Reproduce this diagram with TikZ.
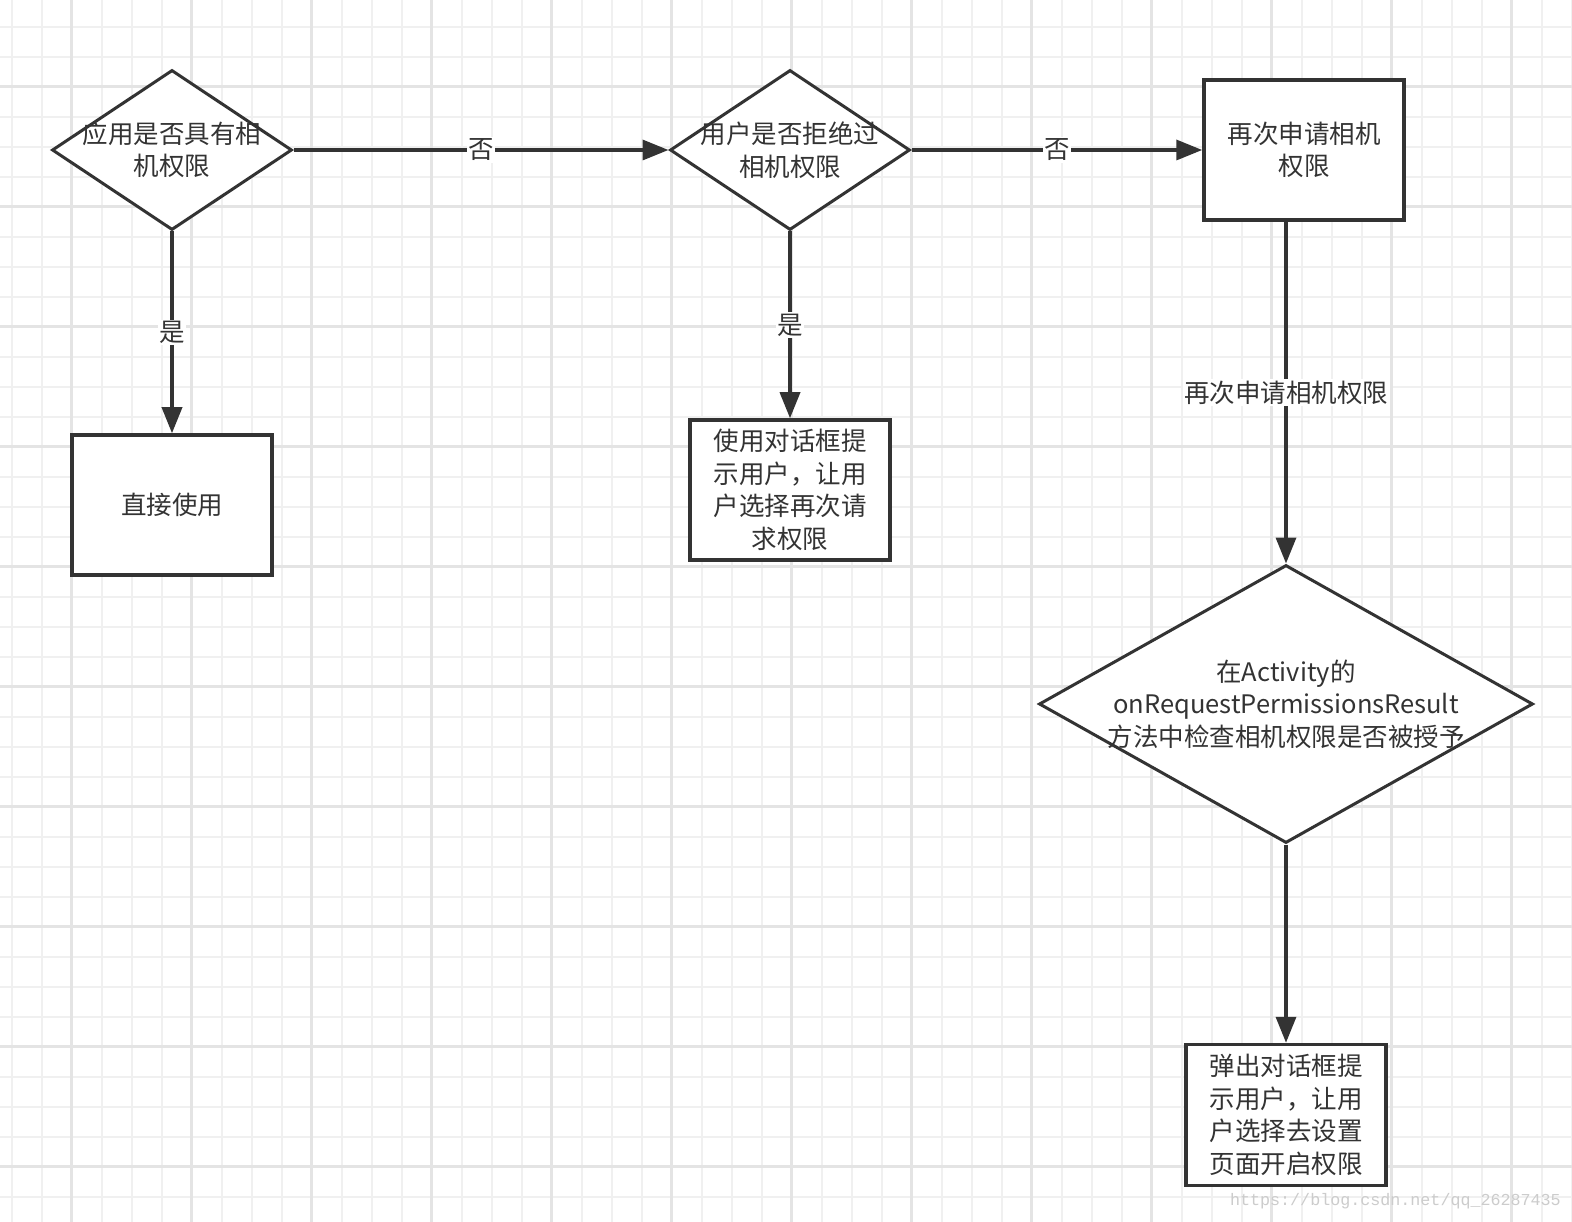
\documentclass[tikz,border=0pt]{standalone}
\usepackage{fontspec}
\setmainfont{Noto Sans CJK SC}
\newfontfamily\wmfont{Liberation Mono}
\usetikzlibrary{shapes.geometric,arrows.meta,positioning}

\definecolor{lineclr}{HTML}{333333}
\definecolor{gridminor}{HTML}{F0F0F0}
\definecolor{gridmajor}{HTML}{E4E4E4}
\definecolor{wmclr}{HTML}{CCCCCC}

\tikzset{
	txt/.style={text=lineclr, align=center, font=\fontsize{25.5pt}{32.5pt}\selectfont},
	box/.style={txt, draw=lineclr, line width=3.5pt, fill=white, minimum width=200pt, minimum height=140pt, inner sep=0pt},
	dia/.style={diamond, draw=lineclr, line width=3pt, fill=white, inner sep=0pt},
	arr/.style={draw=lineclr, line width=3.5pt, -{Triangle[length=26pt,width=20pt]}},
	lbl/.style={txt, fill=white, inner sep=1.5pt},
}

\begin{document}
	\begin{tikzpicture}[x=1pt, y=-1pt]
		% фон и сетка
		\useasboundingbox ( 0, 0 ) rectangle ( 1572, 1222 );
		\fill [white] ( 0, 0 ) rectangle ( 1572, 1222 );
		\foreach \i in {0,...,52}
			\draw [gridminor, line width=2pt] ( {11.7+30*\i}, 0 ) -- ( {11.7+30*\i}, 1222 );
		\foreach \j in {0,...,39}
			\draw [gridminor, line width=2pt] ( 0, {26.7+30*\j} ) -- ( 1572, {26.7+30*\j} );
		\foreach \i in {0,...,12}
			\draw [gridmajor, line width=2.5pt] ( {71.7+120*\i}, 0 ) -- ( {71.7+120*\i}, 1222 );
		\foreach \j in {0,...,9}
			\draw [gridmajor, line width=2.5pt] ( 0, {86.7+120*\j} ) -- ( 1572, {86.7+120*\j} );

		% верхний ряд
		\node [dia, minimum width=240pt, minimum height=160pt, label={[txt]center:{应用是否具有相\\机权限}}] (hasperm) at ( 172, 150 ) {};
		\node [dia, minimum width=240pt, minimum height=160pt, label={[txt]center:{用户是否拒绝过\\相机权限}}] (denied) at ( 790, 150 ) {};
		\node [box] (askagain) at ( 1304, 150 ) {再次申请相机\\权限};

		% второй ряд
		\node [box] (direct) at ( 172, 505 ) {直接使用};
		\node [box] (dialog) at ( 790, 490 ) {使用对话框提\\示用户，让用\\户选择再次请\\求权限};

		% проверка результата
		\node [dia, minimum width=494pt, minimum height=278pt, label={[txt]center:{在Activity的\\onRequestPermissionsResult\\方法中检查相机权限是否被授予}}] (result) at ( 1286, 704 ) {};
		\node [box, minimum height=141pt] (settings) at ( 1286, 1115 ) {弹出对话框提\\示用户，让用\\户选择去设置\\页面开启权限};

		% стрелки
		\draw [arr] (hasperm.east) -- node [lbl] {否} (denied.west);
		\draw [arr] (denied.east) -- node [lbl] {否} (askagain.west);
		\draw [arr] (hasperm.south) -- node [lbl] {是} (direct.north);
		\draw [arr] (denied.south) -- node [lbl] {是} (dialog.north);
		\draw [arr] (result.north |- askagain.south) -- node [lbl] {再次申请相机权限} (result.north);
		\draw [arr] (result.south) -- (settings.north);

		% водяной знак
		\node [text=wmclr, font=\wmfont\fontsize{16.7pt}{18pt}\selectfont, anchor=east, inner sep=0pt] (mark) at ( 1561, 1201 ) {https://blog.csdn.net/qq\_26287435};
	\end{tikzpicture}
\end{document}
